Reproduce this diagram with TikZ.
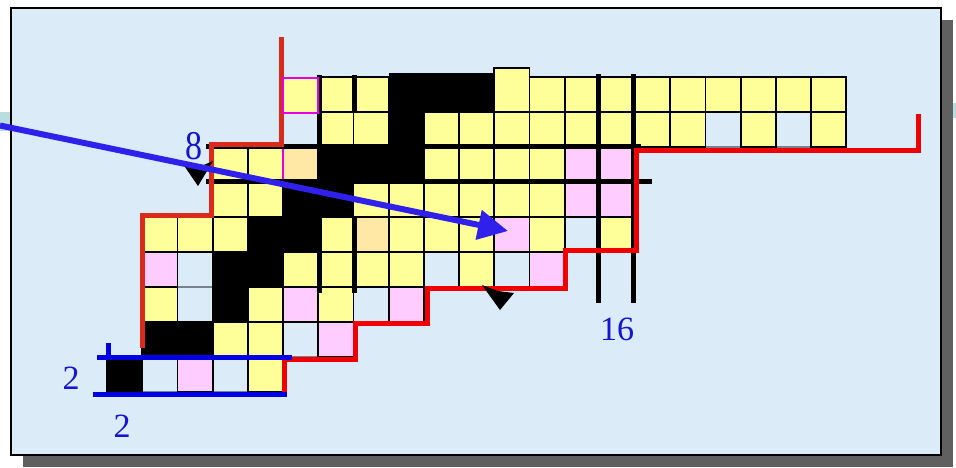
\documentclass[tikz,border=0pt]{standalone}
\usepackage{fontspec}
\setmainfont{Liberation Serif}
\usetikzlibrary{arrows.meta}
\definecolor{bgblue}{RGB}{219,235,247}
\definecolor{shadowgray}{RGB}{96,96,96}
\definecolor{cellyellow}{RGB}{255,255,153}
\definecolor{cellpink}{RGB}{255,204,255}
\definecolor{cellorange}{RGB}{255,232,165}
\definecolor{edgered}{RGB}{240,0,0}
\definecolor{edgeredleft}{RGB}{218,42,28}
\definecolor{lineblue}{RGB}{0,0,230}
\definecolor{arrowblue}{RGB}{48,32,236}
\definecolor{labelblue}{RGB}{20,20,210}
\definecolor{tealbit}{RGB}{184,222,224}
\definecolor{magentaedge}{RGB}{230,0,230}
\definecolor{emptyedge}{RGB}{120,130,140}
\begin{document}
\begin{tikzpicture}[x=1pt,y=-1pt,
  cellbox/.style={draw=black, line width=1.8pt},
  emptybox/.style={draw=emptyedge, line width=1.2pt, fill=bgblue},
  markline/.style={draw=black, line width=5pt},
  redline/.style={draw=edgered, line width=5pt, line join=miter},
  redlineleft/.style={draw=edgeredleft, line width=5pt, line join=miter},
  blueline/.style={draw=lineblue, line width=5pt},
  lbl/.style={text=labelblue, font=\fontsize{34}{34}\selectfont, inner sep=0pt},
  tipblack/.style={fill=black}]
\useasboundingbox (0,0) rectangle (956,467);
% frame with shadow
\fill[shadowgray] (23,20) rectangle (953,467);
\filldraw[fill=bgblue, draw=black, line width=2pt] (11,8) rectangle (941,455);
\fill[tealbit] (0,112) rectangle (10,131);
\fill[tealbit] (953,103) rectangle (956,118);
% empty cells
\foreach \c/\r in {1/0,3/0,5/1,2/2,7/2,2/3,9/3,11/3,13/4,5/7,17/7,19/7}
  \filldraw[emptybox] ({107+35.2*\c},{392-35*(\r+1)}) rectangle ++(35.2,35);
% coloured cells
\foreach \c/\r/\f in {
  4/0/cellyellow, 2/0/cellpink,
  3/1/cellyellow, 4/1/cellyellow, 6/1/cellpink,
  1/2/cellyellow, 4/2/cellyellow, 6/2/cellyellow, 5/2/cellpink, 8/2/cellpink,
  5/3/cellyellow, 6/3/cellyellow, 7/3/cellyellow, 8/3/cellyellow, 10/3/cellyellow, 1/3/cellpink, 12/3/cellpink,
  1/4/cellyellow, 2/4/cellyellow, 3/4/cellyellow, 6/4/cellyellow, 8/4/cellyellow, 9/4/cellyellow, 10/4/cellyellow, 12/4/cellyellow, 14/4/cellyellow, 11/4/cellpink, 7/4/cellorange,
  3/5/cellyellow, 4/5/cellyellow, 7/5/cellyellow, 8/5/cellyellow, 9/5/cellyellow, 10/5/cellyellow, 11/5/cellyellow, 12/5/cellyellow, 13/5/cellpink, 14/5/cellpink,
  3/6/cellyellow, 4/6/cellyellow, 9/6/cellyellow, 10/6/cellyellow, 11/6/cellyellow, 12/6/cellyellow, 13/6/cellpink, 14/6/cellpink,
  6/7/cellyellow, 7/7/cellyellow, 9/7/cellyellow, 10/7/cellyellow, 11/7/cellyellow, 12/7/cellyellow, 13/7/cellyellow, 14/7/cellyellow, 15/7/cellyellow, 16/7/cellyellow, 18/7/cellyellow, 20/7/cellyellow,
  6/8/cellyellow, 7/8/cellyellow, 12/8/cellyellow, 13/8/cellyellow, 14/8/cellyellow, 15/8/cellyellow, 16/8/cellyellow, 17/8/cellyellow, 18/8/cellyellow, 19/8/cellyellow, 20/8/cellyellow}
  \filldraw[cellbox, fill=\f] ({107+35.2*\c},{392-35*(\r+1)}) rectangle ++(35.2,35);
% taller cell in the top row
\filldraw[cellbox, fill=cellyellow] ({107+35.2*11},68) rectangle ++(35.2,44);
% black cells (path)
\foreach \c/\r in {0/0,1/1,2/1,3/2,3/3,4/3,4/4,5/4,5/5,6/5,6/6,7/6,8/6,8/7,8/8,9/8,10/8}
  \filldraw[cellbox, fill=black] ({107+35.2*\c},{392-35*(\r+1)}) rectangle ++(35.2,35);
\fill[black] ({107+35.2*8},73) rectangle ({107+35.2*11},78);
% magenta-framed cell in row 6
\filldraw[draw=magentaedge, line width=2pt, fill=cellorange] ({107+35.2*5},147) rectangle ++(35.2,35);
% marker lines
\draw[markline] (319.5,75) -- (319.5,293);
\draw[markline] (354,75) -- (354,112);
\draw[markline] (354,217) -- (354,293);
\draw[markline] (598,74) -- (598,303);
\draw[markline] (633.5,74) -- (633.5,303);
\draw[markline] (206,146) -- (641,146);
\draw[markline] (206,181) -- (652,181);
% left red staircase
\draw[draw=edgeredleft, line width=5pt, line join=miter] (281,37) -- (281,144.5) -- (211,144.5) -- (211,215) -- (142,215) -- (142,348);
% right red staircase
\draw[redline] (284.5,393) -- (284.5,359) -- (355,359) -- (355,323) -- (427,323) -- (427,288) -- (565,288) -- (565,250) -- (636,250) -- (636,150) -- (918.5,150) -- (918.5,114);
% magenta cell in the top row (above the red line)
\filldraw[draw=magentaedge, line width=2pt, fill=cellyellow] ({107+35.2*5},77.5) rectangle ++(35.2,35);
% blue marks at the bottom
\draw[blueline] (97,357) -- (292,357);
\draw[blueline] (93,394.5) -- (287,394.5);
\draw[blueline] (108,343) -- (108,357);
% labels
\node[lbl, yscale=1.2] (eight) at (194,146) {8};
\node[lbl] (sixteen) at (617,329) {16};
\node[lbl] (twoleft) at (71,378) {2};
\node[lbl] (twobottom) at (122,426) {2};
% black arrow tips
\fill[tipblack] (185,167) -- (198,186) -- (213,161) -- (199,167) -- cycle;
\fill[tipblack] (482,285) -- (500,310) -- (514,293) -- (498,291) -- cycle;
% blue arrow
\draw[arrowblue, line width=6pt, -{Triangle[length=30pt,width=29pt]}] (0,125.5) -- (508,231);
\end{tikzpicture}
\end{document}
